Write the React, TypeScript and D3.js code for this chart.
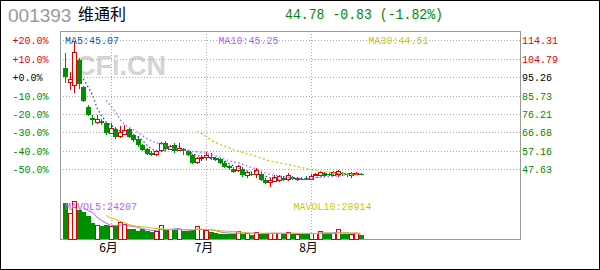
import React from 'react';
import * as d3 from 'd3';

// Daily K-line data (index 0 = first trading day)
const opens = [
  99.84, 92.39, 90.69, 104.13, 90.33, 79.99, 73.89, 71.92, 72.6, 71.41,
  66.24, 68.31, 64.48, 65.72, 68.31, 65.36, 63.14, 60.19, 57.97, 56.21,
  55.18, 57.24, 61.38, 57.97, 60.04, 57.45, 57.97, 56.93, 54.87, 51.04,
  53.31, 53.63, 54.14, 53.31, 52.8, 50.73, 49.34, 47.94, 46.91, 47.94,
  44.17, 45.3, 45.2, 45.2, 42.1, 40.7, 41.43, 41.6, 43.29, 42.46,
  43.49, 42.1, 42.8, 43.3, 42.6, 44.53, 44.53, 45.56, 45.2, 44.68,
  45.2, 45.56, 45.2, 44.17, 44.9, 45.3,
];
const highs = [
  107.75, 97.92, 113.6, 105.16, 90.7, 80.8, 75.7, 75.7, 73.6, 72.0,
  71.56, 69.5, 70.01, 70.53, 68.9, 65.9, 64.8, 60.7, 58.6, 57.0,
  57.6, 61.9, 62.2, 60.2, 61.1, 61.1, 58.6, 57.5, 55.5, 54.0,
  55.0, 56.6, 55.9, 53.9, 53.4, 51.9, 49.8, 48.8, 49.8, 48.8,
  46.7, 46.2, 48.4, 46.2, 43.1, 43.1, 44.7, 44.7, 44.1, 45.5,
  44.2, 43.6, 43.6, 44.2, 45.2, 45.7, 46.7, 46.2, 45.7, 46.7,
  47.2, 46.2, 45.7, 46.2, 46.0, 45.8,
];
const lows = [
  92.24, 88.62, 86.91, 89.14, 82.6, 75.2, 70.53, 71.05, 70.5, 65.36,
  65.8, 63.29, 64.0, 65.2, 63.8, 61.7, 59.3, 57.1, 55.0, 54.4,
  54.6, 56.6, 57.6, 57.5, 56.2, 57.1, 55.2, 54.4, 50.2, 50.4,
  51.9, 52.4, 52.4, 51.9, 50.2, 48.3, 47.3, 45.9, 46.2, 43.7,
  43.1, 44.3, 43.0, 41.6, 40.0, 38.64, 41.0, 41.0, 41.6, 41.7,
  42.1, 41.6, 42.0, 41.9, 42.1, 44.0, 44.0, 43.7, 44.2, 44.2,
  43.7, 44.0, 43.7, 43.2, 44.6, 44.5,
];
const closes = [
  95.26, 93.79, 107.9, 91.72, 82.93, 75.7, 73.37, 73.63, 71.41, 66.24,
  68.62, 64.48, 66.91, 67.94, 64.48, 62.77, 60.35, 57.61, 55.54, 54.87,
  56.93, 60.71, 57.97, 59.67, 57.24, 58.48, 56.93, 54.87, 50.73, 53.47,
  53.83, 55.02, 53.31, 52.44, 50.73, 48.97, 48.15, 46.39, 48.97, 44.68,
  45.87, 45.1, 46.91, 42.1, 40.7, 41.74, 43.49, 43.8, 42.1, 44.17,
  42.5, 42.8, 42.2, 42.15, 43.8, 45.2, 45.87, 44.35, 44.68, 45.87,
  46.39, 45.0, 44.7, 45.25, 45.61, 44.78,
];
const volumes = [
  168800, 119600, 176200, 134800, 127400, 109000, 76800, 65800, 61200, 67600,
  61200, 63000, 76800, 67600, 47400, 47400, 40000, 49200, 40000, 35400,
  38200, 65800, 46000, 46000, 47400, 46000, 40000, 41400, 42800, 61200,
  44600, 40000, 33600, 30800, 27600, 27600, 27600, 27600, 36800, 27600,
  27600, 23000, 30800, 27600, 32200, 27600, 27600, 27600, 27600, 32200,
  27600, 24400, 27600, 27600, 27600, 27600, 36000, 30000, 29000, 27000,
  46105, 24000, 25000, 24500, 26000, 21535,
];

// Axis labels
const pctLabels = ['+20.0%', '+10.0%', '+0.0%', '-10.0%', '-20.0%', '-30.0%', '-40.0%', '-50.0%'];
const priceLabels = ['114.31', '104.79', '95.26', '85.73', '76.21', '66.68', '57.16', '47.63'];
const monthLabels = ['6月', '7月', '8月'];
const monthStartIndex = [10, 31, 54];

const stockCode = '001393';
const stockName = '维通利';

const W = 600;
const H = 270;
const RED = '#e00000';
const GREEN = '#008f00';
const TEXT_GREEN = '#008800';
const BLUE = '#1c57a5';
const PURPLE = '#b064f5';
const YELLOW = '#c8c800';
const GRID = '#a8a8a8';

function movingAvg(arr: number[], n: number): (number | null)[] {
  return arr.map((_, i) => {
    if (i < n - 1) return null;
    let s = 0;
    for (let k = i - n + 1; k <= i; k++) s += arr[k];
    return s / n;
  });
}

function Mono(props: { x: number; y: number; fill: string; text: string; size?: number; adv?: number }) {
  const { x, y, fill, text, size = 11, adv = 6 } = props;
  return (
    <text
      x={x}
      y={y}
      fill={fill}
      fontFamily="'Liberation Mono', 'DejaVu Sans Mono', monospace"
      fontSize={size}
      textLength={text.length * adv}
      lengthAdjust="spacingAndGlyphs"
    >
      {text}
    </text>
  );
}

export default function App() {
  const n = closes.length;
  const x = d3.scaleLinear().domain([0, n - 1]).range([65.1, 360.5]);
  const yP = d3.scaleLinear().domain([47.63, 114.31]).range([169.3, 40.3]);
  const yV = d3.scaleLinear().domain([0, 180000]).range([239.5, 200.4]);

  const ma5 = movingAvg(closes, 5);
  const ma10 = movingAvg(closes, 10);
  const ma30 = movingAvg(closes, 30);
  const mav5 = movingAvg(volumes, 5);
  const mav10 = movingAvg(volumes, 10);

  const priceLine = d3
    .line<number | null>()
    .defined((d) => d != null)
    .x((_, i) => x(i))
    .y((d) => yP(d as number));
  const volLine = d3
    .line<number | null>()
    .defined((d) => d != null)
    .x((_, i) => x(i))
    .y((d) => yV(d as number));

  const last = closes[n - 1];
  const prev = closes[n - 2];
  const chg = last - prev;
  const quote = `${last.toFixed(2)} ${chg.toFixed(2)} (${((chg / prev) * 100).toFixed(2)}%)`;

  const bw = 3.6;
  const px = (v: number) => Math.round(v) + 0.5;

  return (
    <svg width={W} height={H} style={{ position: 'absolute', left: 0, top: 0, background: '#fff' }}>
      <rect x={0.5} y={0.5} width={W - 1} height={H - 1} fill="#fff" stroke="#000" />

      {/* header */}
      <text x={8} y={21.5} fill="#999" fontFamily="'Liberation Sans', Arial, sans-serif" fontSize={19}>
        {stockCode}
      </text>
      <text x={78} y={20} fill="#000" fontFamily="'Noto Sans CJK SC', sans-serif" fontSize={16}>
        {stockName}
      </text>
      <Mono x={285} y={18.5} fill={TEXT_GREEN} text={quote} size={15} adv={7.9} />

      {/* watermark */}
      <text x={76} y={75} fill="#d4d4d4" fontFamily="'Liberation Sans', Arial, sans-serif" fontWeight="bold" fontSize={27}>
        CFi.CN
      </text>

      {/* horizontal grid */}
      {priceLabels.map((p) => (
        <line key={p} x1={60} x2={520} y1={px(yP(+p))} y2={px(yP(+p))} stroke={GRID} strokeDasharray="1,2" />
      ))}
      {/* month grid */}
      {monthStartIndex.map((mi) => (
        <line key={mi} x1={px(x(mi))} x2={px(x(mi))} y1={31} y2={239} stroke={GRID} strokeDasharray="1,2" />
      ))}

      {/* frame */}
      <rect x={60.5} y={31.5} width={460} height={208} fill="none" stroke="#999" />

      {/* left percent labels */}
      {pctLabels.map((t, i) => (
        <Mono
          key={t}
          x={12.5}
          y={yP(+priceLabels[i]) + 4}
          fill={t.startsWith('+0') ? '#000' : t.startsWith('+') ? RED : TEXT_GREEN}
          text={t}
        />
      ))}
      {/* right price labels */}
      {priceLabels.map((t, i) => (
        <Mono
          key={t}
          x={522}
          y={yP(+t) + 4}
          fill={i < 2 ? RED : i === 2 ? '#000' : TEXT_GREEN}
          text={t}
        />
      ))}

      {/* candles */}
      <g shapeRendering="crispEdges">
        {closes.map((c, i) => {
          const o = opens[i];
          const up = c >= o;
          const cx = Math.round(x(i)) + 0.5;
          const top = yP(Math.max(o, c));
          const bot = yP(Math.min(o, c));
          const hi = yP(highs[i]);
          const lo = yP(lows[i]);
          const h = Math.max(bot - top, 1);
          if (up) {
            return (
              <g key={i}>
                <line x1={cx} x2={cx} y1={hi} y2={top} stroke={RED} />
                <line x1={cx} x2={cx} y1={top + h} y2={lo} stroke={RED} />
                <rect x={cx - bw / 2} y={top} width={bw} height={h} fill="#fff" stroke={RED} />
              </g>
            );
          }
          return (
            <g key={i}>
              <line x1={cx} x2={cx} y1={hi} y2={lo} stroke={GREEN} />
              <rect x={cx - bw / 2 - 0.5} y={top} width={bw + 1} height={h} fill={GREEN} />
            </g>
          );
        })}
      </g>

      {/* price moving averages */}
      <path d={priceLine(ma5) || ''} fill="none" stroke={BLUE} strokeWidth={1.3} strokeDasharray="1.5,2.5" />
      <path d={priceLine(ma10) || ''} fill="none" stroke={PURPLE} strokeWidth={1.3} strokeDasharray="1.5,2.5" />
      <path d={priceLine(ma30) || ''} fill="none" stroke={YELLOW} strokeWidth={1.3} strokeDasharray="2,2.5" />

      {/* volume bars */}
      <g shapeRendering="crispEdges">
        {volumes.map((v, i) => {
          const up = closes[i] >= opens[i];
          const cx = Math.round(x(i)) + 0.5;
          const top = yV(v);
          const base = 239;
          if (up) {
            return (
              <rect key={i} x={cx - bw / 2} y={top} width={bw} height={Math.max(base - top, 1)} fill="#fff" stroke={RED} />
            );
          }
          return <rect key={i} x={cx - bw / 2 - 0.5} y={top} width={bw + 1} height={Math.max(base - top, 1)} fill={GREEN} />;
        })}
      </g>
      <path d={volLine(mav5) || ''} fill="none" stroke={PURPLE} strokeWidth={1} />
      <path d={volLine(mav10) || ''} fill="none" stroke={YELLOW} strokeWidth={1} />

      {/* indicator labels */}
      <Mono x={65} y={43.5} fill={BLUE} text={`MA5:${(ma5[n - 1] as number).toFixed(2)}`} />
      <Mono x={218.5} y={43.5} fill={PURPLE} text={`MA10:${(ma10[n - 1] as number).toFixed(2)}`} />
      <Mono x={368.5} y={43.5} fill={YELLOW} text={`MA30:${(ma30[n - 1] as number).toFixed(2)}`} />
      <Mono x={65} y={210} fill={PURPLE} text={`MAVOL5:${Math.round(mav5[n - 1] as number)}`} />
      <Mono x={293.5} y={210} fill={YELLOW} text={`MAVOL10:${Math.round(mav10[n - 1] as number)}`} />

      {/* month labels */}
      {monthLabels.map((m, k) => (
        <text
          key={m}
          x={x(monthStartIndex[k]) - 2}
          y={252}
          textAnchor="middle"
          fill="#000"
          fontFamily="'Noto Sans CJK SC', sans-serif"
          fontSize={12}
        >
          {m}
        </text>
      ))}
    </svg>
  );
}
